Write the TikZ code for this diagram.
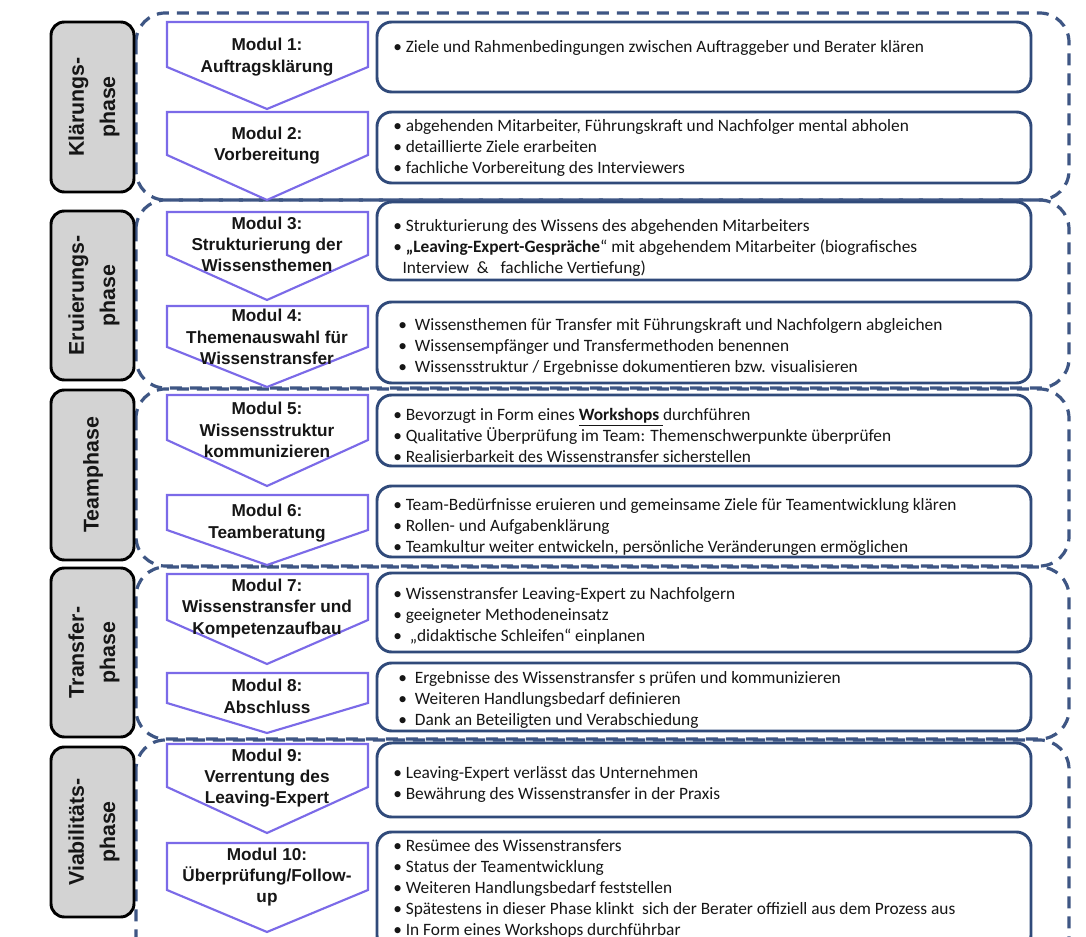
\documentclass[tikz,border=0pt]{standalone}
\usepackage{fontspec}
\setmainfont{Carlito}
\newfontfamily\headfont{Liberation Sans}
\definecolor{phasegray}{RGB}{211,211,211}
\definecolor{chevc}{RGB}{123,106,232}
\definecolor{boxc}{RGB}{48,74,122}
\definecolor{dashc}{RGB}{62,86,132}
\definecolor{textc}{RGB}{22,22,22}
\tikzset{
  phasegroup/.style={draw=dashc, line width=2.4pt, dash pattern=on 9pt off 6pt, rounded corners=22pt},
  phasebox/.style={draw=black, line width=2.2pt, fill=phasegray, rounded corners=10pt},
  phaselabel/.style={rotate=90, align=center, text=textc, inner sep=0pt,
    font=\headfont\bfseries\fontsize{16}{23.5}\selectfont},
  chev/.style={draw=chevc, line width=1.6pt, fill=white, line join=miter},
  chevlabel/.style={align=center, text=textc, inner sep=0pt,
    font=\headfont\bfseries\fontsize{12.9}{16}\selectfont},
  infobox/.style={draw=boxc, line width=2.2pt, rounded corners=11pt, fill=white},
  infotext/.style={anchor=north west, align=left, inner sep=0pt, text=textc,
    font=\fontsize{13}{15.75}\selectfont},
}
% chevron: top edge y, lower side y, tip y
\newcommand{\chevron}[3]{%
  \draw[chev] (167,#1) -- (368,#1) -- (368,#2) -- (267,#3) -- (167,#2) -- cycle;}
\begin{document}
\begin{tikzpicture}[x=0.75pt,y=-0.75pt]
\useasboundingbox (0,0) rectangle (1086,937);
\clip (0,0) rectangle (1086,937);
\fill[white] (0,0) rectangle (1086,937);

% dashed frames around the five phases
\draw[phasegroup] (136,13) rectangle (1069,200);
\draw[phasegroup] (136,200) rectangle (1069,388);
\draw[phasegroup] (136,389) rectangle (1069,566);
\draw[phasegroup] (136,567) rectangle (1069,739);
\draw[phasegroup] (136,740) rectangle (1069,965);

% phase labels
\draw[phasebox] (51,22) rectangle (134,192);
\node[phaselabel] (p1) at (94,107) {Klärungs-\\phase};
\draw[phasebox] (51,211) rectangle (134,380);
\node[phaselabel] (p2) at (94,295.5) {Eruierungs-\\phase};
\draw[phasebox] (51,390) rectangle (134,560);
\node[phaselabel] (p3) at (93,475) {Teamphase};
\draw[phasebox] (51,568) rectangle (134,737);
\node[phaselabel] (p4) at (94,652.5) {Transfer-\\phase};
\draw[phasebox] (51,747) rectangle (134,917);
\node[phaselabel] (p5) at (94,832) {Viabilitäts-\\phase};

% module chevrons
\chevron{22}{67}{109}
\node[chevlabel] (m1) at (267,57) {Modul 1:\\Auftragsklärung};
\chevron{112}{155}{200}
\node[chevlabel] (m2) at (267,145.5) {Modul 2:\\Vorbereitung};
\chevron{212}{255}{300}
\node[chevlabel] (m3) at (267,244.5) {Modul 3:\\Strukturierung der\\Wissensthemen};
\chevron{306}{347}{387}
\node[chevlabel] (m4) at (267,337) {Modul 4:\\Themenauswahl für\\Wissenstransfer};
\chevron{395}{440}{486}
\node[chevlabel] (m5) at (267,430) {Modul 5:\\Wissensstruktur\\kommunizieren};
\chevron{495}{530}{565}
\node[chevlabel] (m6) at (267,523) {Modul 6:\\Teamberatung};
\chevron{574}{620}{664}
\node[chevlabel] (m7) at (267,608.5) {Modul 7:\\Wissenstransfer und\\Kompetenzaufbau};
\chevron{673}{703}{733}
\node[chevlabel] (m8) at (267,696.5) {Modul 8:\\Abschluss};
\chevron{744}{787}{833}
\node[chevlabel] (m9) at (267,778) {Modul 9:\\Verrentung des\\Leaving-Expert};
\chevron{843}{890}{932}
\node[chevlabel] (m10) at (267,877) {Modul 10:\\Überprüfung/Follow-\\up};

% description boxes (node top = first baseline minus strut height)
\draw[infobox] (377,22) rectangle (1031,92);
\node[infotext] (t1) at (393,37.3) {\strut• Ziele und Rahmenbedingungen zwischen Auftraggeber und Berater klären};

\draw[infobox] (377,112) rectangle (1031,183);
\node[infotext] (t2) at (393,116.3) {\strut• abgehenden Mitarbeiter, Führungskraft und Nachfolger mental abholen\\
• detaillierte Ziele erarbeiten\\
• fachliche Vorbereitung des Interviewers};

\draw[infobox] (377,202) rectangle (1031,280);
\node[infotext] (t3) at (393,216.3) {\strut• Strukturierung des Wissens des abgehenden Mitarbeiters\\
• \textbf{„Leaving-Expert-Gespräche}“ mit abgehendem Mitarbeiter (biografisches\\
\hspace*{7pt}Interview \ \& \ \ fachliche Vertiefung)};

\draw[infobox] (377,302) rectangle (1031,383);
\node[infotext] (t4) at (398,315.3) {\strut•\hspace{6pt}Wissensthemen für Transfer mit Führungskraft und Nachfolgern abgleichen\\
•\hspace{6pt}Wissensempfänger und Transfermethoden benennen\\
•\hspace{6pt}Wissensstruktur / Ergebnisse dokumentieren bzw. visualisieren};

\draw[infobox] (377,395) rectangle (1031,466);
\node[infotext] (t5) at (393,405.3) {\strut• Bevorzugt in Form eines \underline{\textbf{Workshops }}durchführen\\
• Qualitative Überprüfung im Team: Themenschwerpunkte überprüfen\\
• Realisierbarkeit des Wissenstransfer sicherstellen};

\draw[infobox] (377,486) rectangle (1031,557);
\node[infotext] (t6) at (393,495.3) {\strut• Team-Bedürfnisse eruieren und gemeinsame Ziele für Teamentwicklung klären\\
• Rollen- und Aufgabenklärung\\
• Teamkultur weiter entwickeln, persönliche Veränderungen ermöglichen};

\draw[infobox] (377,573) rectangle (1031,652);
\node[infotext] (t7) at (393,584.3) {\strut• Wissenstransfer Leaving-Expert zu Nachfolgern\\
• geeigneter Methodeneinsatz\\
•\hspace{6pt}„didaktische Schleifen“ einplanen};

\draw[infobox] (377,663) rectangle (1031,731);
\node[infotext] (t8) at (398,668.3) {\strut•\hspace{6pt}Ergebnisse des Wissenstransfer s prüfen und kommunizieren\\
•\hspace{6pt}Weiteren Handlungsbedarf definieren\\
•\hspace{6pt}Dank an Beteiligten und Verabschiedung};

\draw[infobox] (377,743) rectangle (1031,817);
\node[infotext] (t9) at (393,763.3) {\strut• Leaving-Expert verlässt das Unternehmen\\
• Bewährung des Wissenstransfer in der Praxis};

\draw[infobox] (377,832) rectangle (1031,950);
\node[infotext] (t10) at (393,836.3) {\strut• Resümee des Wissenstransfers\\
• Status der Teamentwicklung\\
• Weiteren Handlungsbedarf feststellen\\
• Spätestens in dieser Phase klinkt \ sich der Berater offiziell aus dem Prozess aus\\
• In Form eines Workshops durchführbar};
\end{tikzpicture}
\end{document}
